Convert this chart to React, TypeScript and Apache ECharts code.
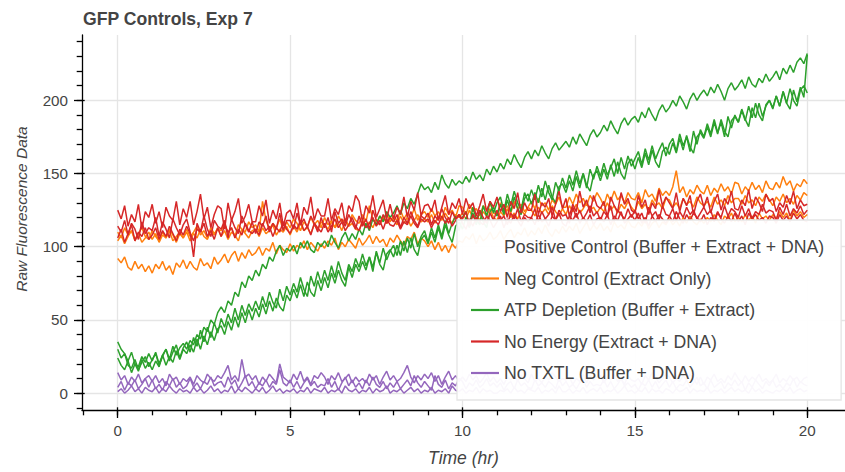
import React, { useEffect, useRef } from "react";
import * as echarts from "echarts";

// ---- Text -----------------------------------------------------------------
const TITLE = "GFP Controls, Exp 7";
const X_LABEL = "Time (hr)";
const Y_LABEL = "Raw Fluorescence Data";

const CONDITIONS = [
  "Positive Control (Buffer + Extract + DNA)",
  "Neg Control (Extract Only)",
  "ATP Depletion (Buffer + Extract)",
  "No Energy (Extract + DNA)",
  "No TXTL (Buffer + DNA)",
];

// Category10 palette; the positive control has no trace in this run.
const COLORS = ["rgba(0,0,0,0)", "#ff7f0e", "#2ca02c", "#d62728", "#9467bd"];

// ---- Axes -----------------------------------------------------------------
const X_TICKS = [0, 5, 10, 15, 20];
const X_MINOR_TICKS = [-1, 0, 1, 2, 3, 4, 5, 6, 7, 8, 9, 10, 11, 12, 13, 14, 15, 16, 17, 18, 19, 20];
const Y_TICKS = [0, 50, 100, 150, 200];
const Y_MINOR_TICKS = [-10, 0, 10, 20, 30, 40, 50, 60, 70, 80, 90, 100, 110, 120, 130, 140, 150, 160, 170, 180, 190, 200, 210, 220, 230, 240];

const X_MIN = -1.036;
const X_MAX = 21.094;
const Y_MIN = -11.5;
const Y_MAX = 244.6;

// Plate reader sampled every 0.1 h over 20 h.
const SAMPLE_STEP_HR = 0.1;
const SAMPLE_COUNT = 201;
const TIME_HR = Array.from({ length: SAMPLE_COUNT }, (_, i) => Math.round(i * SAMPLE_STEP_HR * 10) / 10);

// ---- Raw fluorescence, three replicate wells per condition (one row per hour)
const NEG_1 = [
  92, 89, 93, 86, 84, 90, 85, 88, 83, 87,
  82, 88, 85, 90, 84, 87, 81, 89, 86, 91,
  85, 90, 86, 84, 92, 87, 89, 85, 93, 88,
  91, 95, 89, 94, 97, 90, 96, 92, 98, 94,
  96, 100, 94, 99, 97, 103, 95, 101, 98, 96,
  102, 97, 101, 99, 104, 98, 103, 100, 97, 102,
  99, 104, 101, 106, 98, 103, 100, 105, 102, 99,
  106, 101, 104, 108, 102, 107, 103, 105, 100, 106,
  103, 108, 104, 101, 107, 105, 110, 102, 106, 104,
  100, 104, 98, 103, 97, 101, 96, 102, 99, 104,
  103, 107, 105, 109, 102, 108, 104, 106, 110, 105,
  107, 111, 105, 109, 112, 106, 110, 108, 113, 107,
  111, 108, 113, 109, 115, 110, 107, 112, 109, 114,
  110, 114, 111, 116, 109, 113, 117, 111, 115, 112,
  116, 111, 114, 110, 117, 113, 115, 112, 118, 114,
  113, 117, 114, 119, 112, 116, 118, 113, 117, 115,
  119, 115, 118, 114, 120, 116, 121, 117, 115, 119,
  116, 120, 117, 122, 118, 115, 121, 119, 123, 117,
  120, 117, 122, 118, 121, 116, 123, 119, 121, 118,
  122, 119, 124, 120, 123, 118, 125, 121, 124, 120,
  122,
];
const NEG_2 = [
  110, 106, 113, 108, 111, 104, 109, 113, 107, 105,
  111, 107, 104, 110, 106, 112, 108, 103, 109, 106,
  112, 107, 110, 114, 108, 111, 106, 113, 109, 112,
  111, 116, 109, 113, 107, 115, 112, 110, 117, 113,
  115, 110, 131, 118, 112, 116, 113, 119, 111, 117,
  113, 119, 116, 111, 117, 114, 120, 115, 118, 113,
  120, 115, 118, 113, 121, 117, 119, 114, 122, 118,
  116, 122, 117, 128, 119, 115, 121, 118, 123, 117,
  121, 118, 125, 119, 123, 120, 126, 118, 122, 124,
  120, 126, 121, 124, 119, 127, 122, 125, 120, 128,
  127, 122, 129, 124, 126, 121, 128, 125, 130, 123,
  122, 130, 125, 128, 123, 131, 126, 129, 124, 127,
  131, 126, 133, 128, 130, 125, 132, 129, 134, 127,
  127, 134, 129, 136, 130, 133, 128, 135, 131, 137,
  133, 128, 136, 131, 138, 132, 135, 130, 137, 133,
  132, 137, 130, 139, 134, 136, 131, 140, 135, 138,
  135, 141, 152, 137, 141, 134, 139, 136, 142, 138,
  136, 142, 135, 140, 137, 143, 138, 141, 136, 144,
  143, 136, 141, 138, 144, 139, 142, 137, 145, 140,
  139, 144, 140, 148, 142, 145, 138, 143, 141, 146,
  143,
];
const NEG_3 = [
  104, 108, 102, 107, 111, 105, 109, 103, 106, 110,
  105, 109, 103, 108, 106, 111, 104, 107, 110, 106,
  110, 104, 109, 106, 112, 107, 105, 111, 108, 113,
  107, 111, 105, 110, 108, 104, 112, 109, 106, 111,
  112, 107, 113, 109, 111, 115, 108, 112, 110, 114,
  108, 114, 110, 116, 111, 113, 109, 115, 112, 117,
  115, 112, 117, 113, 116, 111, 118, 114, 116, 112,
  111, 118, 114, 117, 113, 119, 115, 120, 116, 118,
  119, 115, 121, 116, 120, 114, 118, 122, 117, 119,
  117, 122, 116, 121, 118, 123, 119, 116, 122, 120,
  123, 119, 125, 120, 122, 118, 124, 121, 126, 120,
  118, 124, 121, 126, 120, 123, 119, 125, 122, 127,
  125, 121, 127, 123, 126, 122, 128, 124, 121, 126,
  122, 128, 124, 129, 123, 126, 130, 125, 127, 123,
  127, 124, 130, 125, 128, 123, 129, 126, 131, 127,
  124, 131, 126, 129, 125, 132, 128, 130, 126, 133,
  132, 127, 130, 126, 133, 129, 131, 127, 134, 130,
  128, 131, 127, 134, 129, 132, 128, 135, 130, 133,
  133, 129, 135, 130, 132, 128, 134, 131, 136, 132,
  128, 134, 131, 136, 130, 133, 129, 135, 132, 137,
  135,
];

const ATP_1 = [
  35, 30, 27, 22, 28, 20, 18, 25, 21, 27,
  22, 28, 20, 26, 30, 23, 32, 26, 31, 34,
  30, 36, 33, 40, 37, 45, 42, 50, 47, 55,
  59, 55, 63, 60, 69, 66, 76, 72, 80, 77,
  84, 80, 88, 85, 93, 90, 97, 101, 94, 99,
  97, 101, 95, 103, 99, 104, 98, 96, 103, 100,
  104, 100, 108, 103, 99, 106, 110, 104, 109, 105,
  112, 108, 116, 111, 119, 115, 121, 117, 124, 120,
  123, 128, 122, 130, 126, 133, 129, 136, 143, 139,
  141, 137, 144, 139, 149, 143, 140, 146, 142, 145,
  143, 148, 144, 151, 146, 149, 145, 153, 149, 155,
  151, 157, 153, 160, 156, 163, 158, 154, 161, 165,
  160, 166, 162, 169, 164, 160, 167, 171, 166, 169,
  172, 168, 175, 170, 177, 173, 169, 176, 180, 175,
  178, 183, 179, 186, 181, 177, 184, 188, 183, 187,
  189, 185, 192, 188, 195, 190, 186, 193, 197, 192,
  195, 200, 196, 203, 199, 194, 201, 205, 200, 204,
  207, 203, 209, 205, 211, 206, 200, 208, 212, 207,
  210, 214, 208, 216, 211, 209, 215, 212, 218, 213,
  216, 220, 214, 222, 218, 224, 219, 226, 229, 225,
  232,
];
const ATP_2 = [
  30, 24, 27, 19, 17, 23, 16, 21, 25, 18,
  23, 27, 19, 25, 30, 22, 28, 33, 24, 31,
  35, 28, 38, 32, 43, 35, 45, 38, 48, 41,
  51, 45, 54, 48, 58, 50, 60, 53, 61, 56,
  63, 57, 66, 59, 69, 62, 58, 71, 63, 73,
  67, 75, 69, 79, 71, 66, 80, 73, 83, 75,
  84, 77, 87, 79, 90, 82, 77, 88, 83, 92,
  86, 95, 87, 93, 83, 97, 89, 99, 91, 97,
  101, 94, 104, 97, 106, 99, 109, 100, 107, 111,
  103, 113, 106, 115, 107, 118, 109, 116, 121, 111,
  120, 124, 114, 127, 119, 115, 128, 121, 131, 123,
  130, 134, 124, 136, 128, 138, 130, 125, 137, 131,
  139, 132, 142, 134, 145, 137, 132, 144, 138, 147,
  140, 149, 142, 152, 143, 150, 140, 153, 146, 155,
  148, 157, 149, 154, 160, 150, 161, 153, 162, 155,
  160, 165, 156, 167, 159, 169, 160, 166, 171, 162,
  170, 174, 165, 177, 169, 175, 165, 179, 170, 180,
  175, 184, 177, 187, 178, 185, 175, 189, 181, 190,
  185, 194, 187, 182, 195, 188, 198, 189, 196, 200,
  194, 203, 196, 206, 198, 194, 207, 199, 209, 202,
  231,
];
const ATP_3 = [
  24, 19, 16, 22, 14, 20, 15, 23, 17, 21,
  16, 22, 18, 26, 19, 25, 21, 29, 23, 30,
  27, 33, 28, 37, 30, 39, 33, 42, 36, 44,
  46, 40, 49, 43, 52, 45, 55, 48, 57, 50,
  58, 52, 61, 54, 63, 56, 65, 59, 56, 67,
  63, 71, 65, 74, 66, 76, 69, 66, 77, 70,
  79, 72, 82, 75, 84, 77, 73, 86, 79, 88,
  83, 90, 84, 93, 86, 96, 88, 84, 95, 98,
  93, 101, 94, 104, 96, 106, 98, 94, 105, 108,
  102, 110, 103, 113, 105, 115, 108, 103, 114, 117,
  112, 120, 113, 123, 115, 125, 117, 113, 124, 127,
  121, 129, 122, 132, 124, 134, 126, 122, 133, 136,
  129, 137, 130, 140, 132, 142, 134, 130, 141, 143,
  137, 145, 138, 148, 140, 150, 142, 138, 149, 152,
  145, 153, 146, 156, 148, 158, 150, 146, 157, 160,
  153, 161, 154, 164, 156, 166, 158, 154, 165, 168,
  163, 171, 164, 174, 166, 176, 168, 164, 175, 178,
  174, 182, 175, 185, 177, 187, 179, 175, 186, 189,
  185, 193, 186, 196, 188, 198, 190, 186, 197, 200,
  195, 203, 196, 206, 198, 208, 200, 196, 207, 210,
  205,
];

const NOE_1 = [
  125, 119, 128, 114, 122, 117, 129, 112, 124, 120,
  129, 116, 124, 113, 127, 121, 118, 131, 115, 126,
  120, 131, 115, 124, 136, 119, 127, 113, 122, 128,
  126, 112, 130, 118, 124, 133, 116, 121, 129, 117,
  117, 128, 121, 132, 116, 125, 119, 130, 114, 123,
  125, 119, 130, 115, 127, 122, 134, 118, 126, 121,
  121, 133, 118, 126, 122, 130, 116, 128, 124, 135,
  131, 117, 128, 123, 135, 120, 126, 132, 119, 129,
  119, 127, 122, 134, 120, 131, 125, 137, 121, 128,
  129, 124, 132, 118, 127, 135, 122, 130, 126, 133,
  122, 133, 126, 130, 121, 128, 136, 124, 131, 127,
  134, 124, 129, 120, 131, 126, 137, 123, 130, 125,
  125, 136, 122, 130, 127, 133, 121, 129, 138, 126,
  133, 121, 129, 124, 138, 127, 132, 123, 135, 128,
  126, 131, 120, 134, 128, 124, 137, 129, 133, 125,
  123, 135, 127, 132, 122, 130, 126, 139, 128, 134,
  130, 126, 137, 124, 133, 128, 135, 122, 131, 136,
  127, 134, 123, 131, 136, 125, 133, 129, 138, 126,
  125, 132, 128, 139, 126, 134, 130, 124, 136, 131,
  133, 124, 130, 127, 135, 129, 138, 126, 132, 128,
  129,
];
const NOE_2 = [
  114, 110, 118, 108, 116, 112, 105, 117, 109, 113,
  111, 120, 107, 117, 112, 106, 119, 113, 108, 115,
  119, 110, 93, 116, 110, 121, 112, 107, 118, 114,
  112, 118, 106, 119, 113, 109, 121, 115, 110, 117,
  109, 117, 114, 121, 110, 116, 112, 123, 111, 118,
  118, 112, 123, 115, 119, 113, 121, 116, 110, 120,
  113, 120, 110, 124, 116, 119, 114, 122, 117, 112,
  121, 114, 119, 112, 125, 118, 115, 122, 116, 120,
  117, 122, 113, 120, 116, 124, 118, 114, 121, 119,
  123, 115, 121, 118, 126, 120, 116, 124, 119, 122,
  119, 124, 114, 122, 117, 125, 120, 116, 123, 118,
  125, 118, 121, 115, 123, 119, 126, 117, 122, 120,
  120, 126, 117, 124, 119, 122, 127, 118, 125, 121,
  122, 116, 127, 120, 125, 119, 123, 128, 121, 124,
  118, 124, 121, 128, 117, 125, 122, 119, 126, 120,
  125, 119, 123, 116, 127, 121, 124, 118, 128, 122,
  121, 126, 118, 124, 120, 127, 122, 125, 119, 123,
  127, 122, 125, 117, 123, 120, 128, 121, 126, 124,
  120, 128, 121, 126, 119, 124, 122, 129, 123, 125,
  124, 118, 127, 122, 129, 121, 126, 123, 128, 122,
  125,
];
const NOE_3 = [
  106, 112, 103, 109, 115, 104, 110, 107, 113, 105,
  108, 113, 105, 111, 107, 114, 109, 104, 112, 108,
  114, 109, 104, 112, 110, 116, 107, 111, 105, 113,
  107, 115, 110, 113, 106, 112, 108, 116, 111, 109,
  112, 108, 116, 111, 114, 107, 113, 110, 117, 112,
  109, 115, 112, 118, 111, 114, 108, 116, 113, 110,
  116, 110, 114, 119, 113, 117, 111, 115, 120, 114,
  111, 117, 113, 116, 120, 114, 118, 112, 119, 115,
  114, 118, 112, 117, 115, 121, 116, 113, 119, 117,
  119, 113, 118, 115, 121, 116, 120, 114, 118, 122,
  116, 112, 119, 114, 120, 117, 115, 121, 118, 113,
  117, 121, 113, 119, 116, 122, 118, 114, 120, 117,
  120, 115, 122, 117, 119, 114, 121, 118, 123, 116,
  114, 121, 118, 123, 116, 120, 117, 122, 115, 119,
  120, 117, 122, 115, 121, 118, 124, 116, 119, 122,
  118, 123, 116, 120, 114, 121, 117, 122, 119, 116,
  121, 117, 124, 119, 116, 122, 118, 123, 120, 117,
  122, 115, 120, 118, 124, 119, 116, 121, 117, 123,
  117, 121, 115, 123, 119, 122, 118, 120, 116, 121,
  120, 116, 122, 118, 121, 117, 123, 119, 122, 118,
  117,
];

const TXTL_1 = [
  14, 9, 12, 6, 11, 8, 13, 7, 10, 12,
  8, 12, 7, 10, 5, 13, 9, 11, 6, 10,
  8, 11, 6, 12, 9, 7, 13, 10, 8, 12,
  10, 14, 19, 9, 12, 8, 23, 11, 13, 9,
  12, 6, 11, 8, 13, 10, 7, 20, 11, 9,
  7, 13, 9, 15, 8, 11, 6, 12, 10, 14,
  11, 6, 12, 9, 14, 8, 10, 13, 7, 11,
  8, 10, 7, 13, 9, 12, 6, 11, 15, 9,
  12, 8, 10, 14, 19, 11, 7, 12, 9, 13,
  10, 14, 8, 12, 6, 11, 15, 9, 12, 8,
  11, 8, 13, 9, 12, 7, 10, 14, 8, 11,
  7, 10, 6, 11, 9, 13, 8, 12, 10, 7,
  13, 8, 10, 7, 12, 9, 14, 11, 8, 10,
  9, 11, 6, 10, 8, 13, 7, 12, 9, 11,
  12, 7, 11, 9, 13, 8, 10, 6, 12, 9,
  8, 10, 6, 12, 9, 14, 11, 7, 10, 13,
  11, 7, 10, 8, 12, 9, 13, 10, 6, 11,
  6, 11, 9, 13, 8, 10, 7, 12, 9, 14,
  10, 7, 12, 8, 11, 9, 13, 8, 10, 7,
  9, 13, 7, 10, 8, 12, 9, 11, 7, 10,
  11,
];
const TXTL_2 = [
  4, 8, 2, 7, 5, 9, 3, 6, 10, 4,
  9, 3, 6, 2, 8, 5, 10, 4, 7, 3,
  5, 10, 4, 7, 3, 8, 6, 11, 5, 7,
  8, 4, 11, 6, 9, 3, 7, 12, 5, 8,
  3, 7, 5, 9, 4, 8, 6, 16, 7, 5,
  9, 4, 8, 3, 7, 10, 5, 8, 4, 6,
  5, 10, 4, 8, 2, 7, 11, 5, 9, 4,
  7, 3, 9, 5, 11, 6, 4, 8, 3, 7,
  4, 8, 3, 6, 9, 5, 12, 7, 4, 8,
  5, 2, 12, 6, 4, 9, 3, 7, 5, 10,
  8, 3, 7, 5, 9, 4, 6, 10, 5, 7,
  4, 7, 2, 6, 8, 3, 9, 5, 7, 4,
  3, 9, 5, 7, 4, 8, 6, 3, 10, 5,
  8, 4, 6, 3, 7, 9, 4, 8, 5, 6,
  5, 9, 4, 8, 3, 6, 10, 5, 7, 4,
  6, 2, 7, 5, 9, 4, 8, 3, 6, 9,
  4, 8, 3, 6, 5, 9, 4, 7, 11, 5,
  7, 3, 9, 4, 6, 8, 3, 7, 5, 9,
  5, 8, 2, 7, 4, 9, 6, 3, 8, 5,
  9, 4, 6, 3, 7, 5, 10, 4, 8, 6,
  5,
];
const TXTL_3 = [
  1, 3, 0, 2, 5, 1, 3, 0, 4, 2,
  1, 4, 0, 3, 1, 5, 2, 0, 3, 1,
  2, 0, 4, 1, 3, 0, 2, 5, 1, 3,
  0, 2, 1, 5, 0, 3, 1, 4, 2, 0,
  3, 1, 4, 0, 2, 5, 1, 3, 0, 2,
  1, 3, 0, 2, 1, 4, 0, 3, 2, 1,
  4, 0, 2, 1, 3, 0, 5, 2, 1, 3,
  0, 2, 1, 4, 0, 3, 1, 2, 5, 0,
  2, 1, 3, 0, 2, 4, 1, 3, 0, 2,
  1, 4, 0, 2, 1, 3, 0, 5, 2, 1,
  3, 0, 2, 1, 4, 0, 3, 1, 2, 0,
  0, 2, 1, 3, 0, 4, 1, 2, 0, 3,
  2, 1, 4, 0, 2, 1, 3, 0, 5, 1,
  1, 3, 0, 2, 1, 4, 0, 2, 3, 1,
  4, 0, 2, 1, 3, 0, 2, 5, 1, 2,
  0, 2, 1, 4, 0, 3, 1, 2, 0, 3,
  2, 0, 3, 1, 2, 4, 0, 3, 1, 2,
  1, 4, 0, 2, 1, 3, 0, 2, 4, 1,
  3, 1, 2, 0, 4, 1, 3, 0, 2, 1,
  0, 2, 1, 3, 1, 4, 0, 2, 3, 1,
  2,
];

// Replicates per condition, in CONDITIONS order.
const REPLICATES: number[][][] = [
  [],
  [NEG_1, NEG_2, NEG_3],
  [ATP_1, ATP_2, ATP_3],
  [NOE_1, NOE_2, NOE_3],
  [TXTL_1, TXTL_2, TXTL_3],
];

// ---- Styling ---------------------------------------------------------------
const FONT = "'Liberation Sans', Arial, Helvetica, sans-serif";
const INK = "#444444";
const AXIS_INK = "#000000";
const GRID_LINE = "#e5e5e5";

function buildSeries() {
  const out: any[] = [];
  CONDITIONS.forEach((name, ci) => {
    const reps = REPLICATES[ci];
    const list = reps.length ? reps : [[]];
    list.forEach((values) => {
      out.push({
        type: "line",
        name,
        xAxisIndex: 0,
        yAxisIndex: 0,
        color: COLORS[ci],
        symbol: "none",
        showSymbol: false,
        silent: true,
        lineStyle: { width: 1.5, color: COLORS[ci] },
        emphasis: { disabled: true },
        data: values.map((v, i) => [TIME_HR[i], v]),
      });
    });
  });
  return out;
}

function tickAxes(kind: "x" | "y") {
  const isX = kind === "x";
  const min = isX ? X_MIN : Y_MIN;
  const max = isX ? X_MAX : Y_MAX;
  const major = isX ? X_TICKS : Y_TICKS;
  const minor = isX ? X_MINOR_TICKS : Y_MINOR_TICKS;
  const position = isX ? "bottom" : "left";
  const base = { type: "value", min, max, position, silent: true };
  return [
    {
      ...base,
      axisLine: { show: true, onZero: false, lineStyle: { color: AXIS_INK, width: 1.3 } },
      axisTick: { show: true, inside: false, length: 8, customValues: major, lineStyle: { color: AXIS_INK, width: 1.3 } },
      axisLabel: {
        show: true,
        customValues: major,
        margin: isX ? 13 : 14,
        color: INK,
        fontSize: 15.2,
        fontFamily: FONT,
      },
      splitLine: { show: true, lineStyle: { color: GRID_LINE, width: 1.3 } },
      ...(isX
        ? {
            name: X_LABEL,
            nameLocation: "middle",
            nameGap: 39,
            nameTextStyle: { color: INK, fontSize: 17.5, fontStyle: "italic", fontFamily: FONT },
          }
        : {}),
    },
    {
      ...base,
      axisLine: { show: false, onZero: false },
      axisTick: { show: true, inside: false, length: 5.3, customValues: minor, lineStyle: { color: AXIS_INK, width: 1.3 } },
      axisLabel: { show: false },
      splitLine: { show: false },
    },
    {
      ...base,
      axisLine: { show: false, onZero: false },
      axisTick: { show: true, inside: true, length: 2.7, customValues: major, lineStyle: { color: AXIS_INK, width: 1.3 } },
      axisLabel: { show: false },
      splitLine: { show: false },
    },
  ];
}

function buildOption() {
  return {
    animation: false,
    backgroundColor: "#ffffff",
    title: {
      text: TITLE,
      left: 83,
      top: 10,
      padding: 0,
      textStyle: { color: INK, fontSize: 17.6, fontWeight: "bold", fontFamily: FONT },
    },
    grid: { left: 82, top: 35, bottom: 58, right: -6, containLabel: false },
    xAxis: tickAxes("x"),
    yAxis: tickAxes("y"),
    legend: {
      show: true,
      orient: "vertical",
      left: 457,
      top: 220,
      padding: [17, 17, 17, 14],
      itemGap: 11.5,
      itemWidth: 28,
      itemHeight: 2.2,
      icon: "rect",
      selectedMode: false,
      backgroundColor: "rgba(255,255,255,0.95)",
      borderColor: "#e5e5e5",
      borderWidth: 1.3,
      data: CONDITIONS,
      textStyle: { color: INK, fontSize: 17.7, fontFamily: FONT, lineHeight: 20 },
    },
    graphic: [
      {
        type: "text",
        x: 21,
        y: 209,
        rotation: Math.PI / 2,
        silent: true,
        style: {
          text: Y_LABEL,
          fill: INK,
          fontSize: 15.5,
          fontStyle: "italic",
          fontFamily: FONT,
          textAlign: "center",
          textVerticalAlign: "middle",
        },
      },
    ],
    series: buildSeries(),
  };
}

export default function App() {
  const ref = useRef<HTMLDivElement>(null);
  useEffect(() => {
    if (!ref.current) return;
    const chart = echarts.init(ref.current, null, { renderer: "svg" });
    chart.setOption(buildOption() as any);
    return () => chart.dispose();
  }, []);
  return (
    <div
      ref={ref}
      style={{ position: "absolute", left: 0, top: 0, width: 845, height: 472 }}
    />
  );
}
